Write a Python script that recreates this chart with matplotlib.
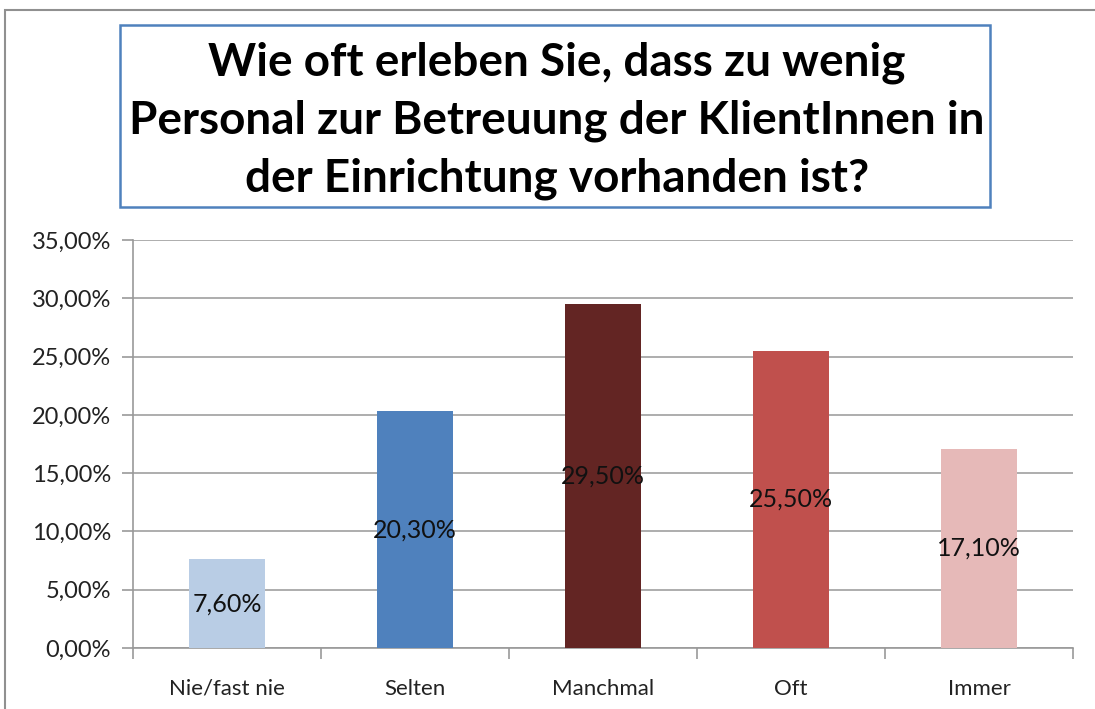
import numpy as np
import matplotlib.pyplot as plt
from matplotlib.patches import Rectangle
from matplotlib.ticker import FuncFormatter

categories = ["Nie/fast nie", "Selten", "Manchmal", "Oft", "Immer"]
values = [7.6, 20.3, 29.5, 25.5, 17.1]
colors = ["#B9CDE5", "#4F81BD", "#632523", "#C0504D", "#E6B9B8"]
title = "Wie oft erleben Sie, dass zu wenig\nPersonal zur Betreuung der KlientInnen in\nder Einrichtung vorhanden ist?"

plt.rcParams['font.family'] = ['Lato', 'DejaVu Sans']

fig = plt.figure(figsize=(10.95, 7.09), dpi=100)
ax = fig.add_axes([0.1215, 0.086, 0.8585, 0.5755])

x = np.arange(len(categories))
bars = ax.bar(x, values, width=0.4, color=colors, zorder=3)
for b, v in zip(bars, values):
    ax.text(b.get_x() + b.get_width() / 2, v / 2, f"{v:.2f}%".replace(".", ","),
            ha="center", va="center", fontsize=18, color="#111111", zorder=4)

ax.set_xlim(-0.5, len(categories) - 0.5)
ax.set_ylim(0, 35)
ax.set_yticks(np.arange(0, 36, 5))
ax.yaxis.set_major_formatter(FuncFormatter(lambda v, p: f"{v:.2f}%".replace(".", ",")))
ax.set_xticks(x)
ax.set_xticklabels(categories)
ax.set_xticks(np.arange(-0.5, len(categories), 1), minor=True)
ax.tick_params(axis="x", which="major", length=0, pad=22, labelsize=16, labelcolor="#222222")
ax.tick_params(axis="x", which="minor", length=8, color="#999999", width=1.2)
ax.tick_params(axis="y", length=8, color="#999999", width=1.2, pad=8, labelsize=17, labelcolor="#222222")
ax.grid(axis="y", color="#A0A0A0", linewidth=1.2, zorder=0)
for s in ["top", "right"]:
    ax.spines[s].set_visible(False)
for s in ["left", "bottom"]:
    ax.spines[s].set_color("#999999")
    ax.spines[s].set_linewidth(1.2)

# outer frame and title box
fig.patches.append(Rectangle((5 / 1095, -0.1), 1.1, 1 - 10 / 709 + 0.1, transform=fig.transFigure,
                             fill=False, edgecolor="#909090", linewidth=1.5))
fig.patches.append(Rectangle((120 / 1095, 1 - 207 / 709), 870 / 1095, 182 / 709, transform=fig.transFigure,
                             fill=False, edgecolor="#4F81BD", linewidth=1.8))
fig.text(557 / 1095, 1 - 121 / 709, title, ha="center", va="center", fontsize=33,
         fontweight="bold", linespacing=1.45)

fig.savefig("out.png", dpi=100)
